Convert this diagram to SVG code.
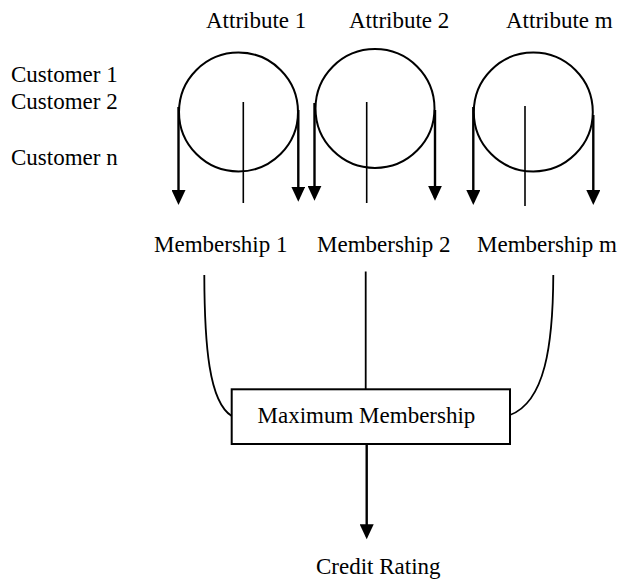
<svg xmlns="http://www.w3.org/2000/svg" width="625" height="579" viewBox="0 0 625 579">
  <style>
    .lbl { font-family: "Liberation Serif", "Times New Roman", serif; font-size: 23px; fill: #000; }
    .ring { fill: none; stroke: #000; stroke-width: 2; }
    .axis { stroke: #000; stroke-width: 1.6; fill: none; }
    .arrow { stroke: #000; stroke-width: 2.4; fill: none; marker-end: url(#head); }
    .link { stroke: #000; stroke-width: 1.8; fill: none; }
    .box { fill: #fff; stroke: #000; stroke-width: 2; }
  </style>
  <defs>
    <marker id="head" markerUnits="userSpaceOnUse" markerWidth="16" markerHeight="14" refX="12" refY="7" orient="auto">
      <path d="M0,0 L15,7 L0,14 z" fill="#000"/>
    </marker>
  </defs>

  <rect width="625" height="579" fill="#fff"/>

  <!-- row labels -->
  <g id="customers">
    <text class="lbl" x="11" y="82">Customer 1</text>
    <text class="lbl" x="11" y="109">Customer 2</text>
    <text class="lbl" x="11" y="165">Customer n</text>
  </g>

  <!-- attribute 1 -->
  <g id="attribute-1">
    <text class="lbl" x="206" y="28">Attribute 1</text>
    <circle class="ring" cx="238.5" cy="112" r="59.5"/>
    <line class="axis" x1="243.3" y1="102" x2="243.3" y2="203"/>
  </g>

  <!-- attribute 2 -->
  <g id="attribute-2">
    <text class="lbl" x="349" y="28">Attribute 2</text>
    <circle class="ring" cx="375" cy="108.5" r="59.5"/>
    <line class="axis" x1="366.7" y1="102" x2="366.7" y2="203"/>
  </g>

  <!-- attribute m -->
  <g id="attribute-m">
    <text class="lbl" x="506" y="28">Attribute m</text>
    <circle class="ring" cx="533.3" cy="112" r="59.5"/>
    <line class="axis" x1="525" y1="106" x2="525" y2="206"/>
  </g>

  <!-- membership labels -->
  <g id="membership-1"><text class="lbl" x="154" y="252">Membership 1</text></g>
  <g id="membership-2"><text class="lbl" x="317" y="252">Membership 2</text></g>
  <g id="membership-m"><text class="lbl" x="477" y="252">Membership m</text></g>

  <!-- aggregation box -->
  <g id="maximum-membership">
    <rect class="box" x="231.7" y="389.3" width="278.3" height="54.7"/>
    <text class="lbl" x="257.5" y="422.5">Maximum Membership</text>
  </g>

  <!-- result -->
  <g id="credit-rating">
    <text class="lbl" x="316" y="573.5">Credit Rating</text>
  </g>

  <!-- connectors -->
  <g id="connectors">
    <line class="arrow" x1="178.5" y1="107" x2="178.5" y2="202"/>
    <line class="arrow" x1="298.3" y1="110" x2="298.3" y2="198.7"/>
    <line class="arrow" x1="314.5" y1="103" x2="314.5" y2="197.7"/>
    <line class="arrow" x1="435" y1="110" x2="435" y2="197.7"/>
    <line class="arrow" x1="473.3" y1="107" x2="473.3" y2="202"/>
    <line class="arrow" x1="593.3" y1="115" x2="593.3" y2="202"/>

    <path class="link" d="M204.3,275 C204.5,345 209,402 231.7,416"/>
    <line class="link" x1="365.7" y1="271.5" x2="365.7" y2="389.3"/>
    <path class="link" d="M553.3,275 C553,345 545,402 510,415"/>

    <line class="arrow" x1="366.7" y1="444" x2="366.7" y2="536.3"/>
  </g>
</svg>
